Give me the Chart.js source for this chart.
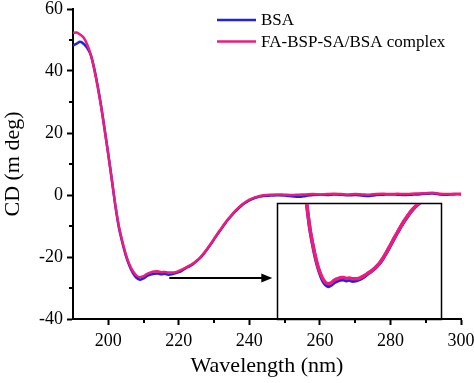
<!DOCTYPE html>
<html>
<head>
<meta charset="utf-8">
<script src="https://cdn.jsdelivr.net/npm/chart.js@4/dist/chart.umd.min.js"></script>
<style>
  html, body { margin: 0; padding: 0; background: #fff; }
  #wrap { position: relative; width: 474px; height: 383px; }
  #main { position: absolute; left: 0; top: 0; }
  #inset { position: absolute; }
</style>
</head>
<body>
<div id="wrap">
  <canvas id="main" width="474" height="383"></canvas>
  <canvas id="inset" width="10" height="10"></canvas>
</div>
<script>
// ---------- data ----------
const wavelength = [190,191,192,193,194,195,196,197,198,199,200,201,202,203,204,205,206,207,208,209,210,211,212,213,214,215,216,217,218,219,220,221,222,223,224,225,226,227,228,229,230,231,232,233,234,235,236,237,238,239,240,241,242,243,244,246,248,250,252,254,256,258,260,262,264,266,268,270,272,274,276,278,280,282,284,286,288,290,292,294,296,298,300];
const bsa = [48.2,48.8,49.4,48.8,47.5,45.3,41.0,35.2,28.6,21.0,13.2,5.0,-3.4,-10.4,-15.4,-19.6,-22.8,-25.2,-26.7,-27.3,-26.9,-26.1,-25.7,-25.4,-25.3,-25.6,-25.4,-25.7,-25.6,-25.3,-24.9,-24.3,-23.6,-23.0,-22.3,-21.4,-20.4,-19.1,-17.6,-16.0,-14.3,-12.6,-11.0,-9.4,-7.9,-6.6,-5.3,-4.2,-3.2,-2.4,-1.7,-1.2,-0.8,-0.5,-0.3,-0.2,-0.1,-0.2,-0.4,-0.6,-0.3,0.0,0.1,0.0,0.2,0.1,-0.1,0.0,-0.2,-0.3,0.0,0.1,0.2,0.1,0.0,0.1,0.2,0.4,0.5,0.2,0.1,0.2,0.2];
const complexSA = [52.3,52.4,51.8,50.8,48.6,45.4,40.6,34.8,28.2,20.7,13.0,5.0,-3.2,-10.1,-15.0,-19.2,-22.4,-24.6,-26.0,-26.5,-26.2,-25.4,-25.0,-24.7,-24.6,-24.9,-24.8,-25.0,-25.0,-24.9,-24.5,-24.0,-23.4,-22.8,-22.1,-21.2,-20.2,-18.9,-17.4,-15.8,-14.1,-12.4,-10.8,-9.2,-7.7,-6.4,-5.1,-4.0,-3.0,-2.2,-1.5,-1.0,-0.6,-0.3,-0.1,0.1,0.2,0.1,0.0,0.1,0.2,0.3,0.2,0.3,0.4,0.3,0.2,0.3,0.2,0.1,0.3,0.4,0.3,0.4,0.3,0.4,0.5,0.6,0.7,0.4,0.3,0.4,0.4];
const seriesLabels = ['BSA', 'FA-BSP-SA/BSA complex'];
const xTitle = 'Wavelength (nm)';
const yTitle = 'CD (m deg)';
const xTicks = [200,220,240,260,280,300];
const yTicks = [-40,-20,0,20,40,60];
// inset frame (data coords of main chart) and its own zoomed ranges
const insetFrameX = [247.7, 294.3];
const insetFrameY = [-40, -2.5];
const insetRangeX = [192.4, 246.3];
const insetRangeY = [-36.8, -2.5];
// arrow (data coords)
const arrowFrom = [217.3, -26.8];
const arrowTo = [246.5, -26.8];

const BLUE = '#2020e6';
const PINK = '#ec1c7c';
const FONT = "'Liberation Serif', 'Times New Roman', serif";

const pts = arr => wavelength.map((x, i) => ({x: x, y: arr[i]}));

const extras = {
  id: 'extras',
  afterDraw(chart) {
    const ctx = chart.ctx, xs = chart.scales.x, ys = chart.scales.y;
    ctx.save();
    // minor ticks
    ctx.strokeStyle = '#000'; ctx.lineWidth = 2;
    for (let v = 210; v < 300; v += 20) {
      const px = Math.round(xs.getPixelForValue(v));
      ctx.beginPath(); ctx.moveTo(px, ys.bottom); ctx.lineTo(px, ys.bottom + 4); ctx.stroke();
    }
    for (let v = -30; v < 60; v += 20) {
      const py = Math.round(ys.getPixelForValue(v));
      ctx.beginPath(); ctx.moveTo(xs.left, py); ctx.lineTo(xs.left - 4, py); ctx.stroke();
    }
    // inset frame
    const fx0 = xs.getPixelForValue(insetFrameX[0]), fx1 = xs.getPixelForValue(insetFrameX[1]);
    const fy0 = ys.getPixelForValue(insetFrameY[1]), fy1 = ys.getPixelForValue(insetFrameY[0]);
    ctx.lineWidth = 1.5;
    ctx.strokeRect(Math.round(fx0) + 0.5, Math.round(fy0) + 0.5, Math.round(fx1 - fx0), Math.round(fy1 - fy0));
    // arrow
    const ax0 = xs.getPixelForValue(arrowFrom[0]), ay = ys.getPixelForValue(arrowFrom[1]);
    const ax1 = xs.getPixelForValue(arrowTo[0]);
    ctx.lineWidth = 2;
    ctx.beginPath(); ctx.moveTo(ax0, ay); ctx.lineTo(ax1 - 8, ay); ctx.stroke();
    ctx.fillStyle = '#000';
    ctx.beginPath(); ctx.moveTo(ax1, ay); ctx.lineTo(ax1 - 11, ay - 4.5); ctx.lineTo(ax1 - 11, ay + 4.5); ctx.closePath(); ctx.fill();
    // legend
    ctx.font = '17px ' + FONT;
    ctx.textBaseline = 'middle';
    ctx.textAlign = 'left';
    const rows = [[BLUE, seriesLabels[0], 20], [PINK, seriesLabels[1], 41.5]];
    rows.forEach(r => {
      ctx.strokeStyle = r[0]; ctx.lineWidth = 2.5;
      ctx.beginPath(); ctx.moveTo(217, r[2]); ctx.lineTo(256, r[2]); ctx.stroke();
      ctx.fillStyle = '#000';
      ctx.fillText(r[1], 261, r[2] + 1);
    });
    ctx.restore();
  }
};

const mainChart = new Chart(document.getElementById('main'), {
  type: 'line',
  data: {
    datasets: [
      { label: seriesLabels[0], data: pts(bsa), borderColor: BLUE, borderWidth: 2.5, pointRadius: 0, tension: 0.3, order: 1 },
      { label: seriesLabels[1], data: pts(complexSA), borderColor: PINK, borderWidth: 2.5, pointRadius: 0, tension: 0.3, order: 0 }
    ]
  },
  options: {
    responsive: false,
    animation: false,
    devicePixelRatio: 1,
    layout: { padding: { top: 0, right: 0, left: 0, bottom: 0 } },
    plugins: { legend: { display: false }, tooltip: { enabled: false } },
    scales: {
      x: {
        type: 'linear', min: 190, max: 300,
        afterBuildTicks: s => { s.ticks = xTicks.map(v => ({value: v})); },
        afterFit: s => { s.height = 64; s.paddingRight = 13; s.paddingLeft = 0; },
        ticks: { color: '#000', font: { family: FONT, size: 18 }, padding: 5, maxRotation: 0 },
        grid: { drawOnChartArea: false, drawTicks: true, tickLength: 6, color: '#000', tickWidth: 2 },
        border: { display: true, color: '#000', width: 2 },
        title: { display: true, text: xTitle, color: '#000', font: { family: FONT, size: 22 }, padding: { top: 6 } }
      },
      y: {
        type: 'linear', min: -40, max: 60,
        afterBuildTicks: s => { s.ticks = yTicks.map(v => ({value: v})); },
        afterFit: s => { s.width = 73; s.paddingTop = 9; s.paddingBottom = 0; },
        ticks: { color: '#000', font: { family: FONT, size: 18 }, padding: 4 },
        grid: { drawOnChartArea: false, drawTicks: true, tickLength: 6, color: '#000', tickWidth: 2 },
        border: { display: true, color: '#000', width: 2 },
        title: { display: true, text: yTitle, color: '#000', font: { family: FONT, size: 22 }, padding: 0 }
      }
    }
  },
  plugins: [extras]
});

// ---------- inset ----------
const xs = mainChart.scales.x, ys = mainChart.scales.y;
const L = Math.round(xs.getPixelForValue(insetFrameX[0])) + 1;
const R = Math.round(xs.getPixelForValue(insetFrameX[1]));
const T = Math.round(ys.getPixelForValue(insetFrameY[1])) + 1;
const B = Math.round(ys.getPixelForValue(insetFrameY[0])) - 1;
const ic = document.getElementById('inset');
ic.width = R - L; ic.height = B - T;
ic.style.left = L + 'px'; ic.style.top = T + 'px';
new Chart(ic, {
  type: 'line',
  data: {
    datasets: [
      { label: seriesLabels[0], data: pts(bsa), borderColor: BLUE, borderWidth: 3.5, pointRadius: 0, tension: 0.3, order: 1 },
      { label: seriesLabels[1], data: pts(complexSA), borderColor: PINK, borderWidth: 3.5, pointRadius: 0, tension: 0.3, order: 0 }
    ]
  },
  options: {
    responsive: false, animation: false, devicePixelRatio: 1,
    layout: { padding: 0 },
    plugins: { legend: { display: false }, tooltip: { enabled: false } },
    scales: {
      x: { type: 'linear', min: insetRangeX[0], max: insetRangeX[1], display: false },
      y: { type: 'linear', min: insetRangeY[0], max: insetRangeY[1], display: false }
    }
  }
});
</script>
</body>
</html>
